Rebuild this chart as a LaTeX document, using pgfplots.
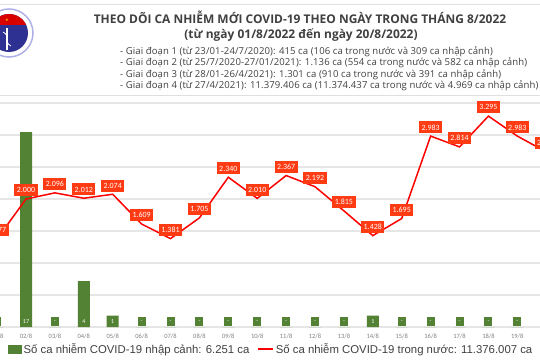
\documentclass[border=0pt]{standalone}
\usepackage{pgfplots}
\pgfplotsset{compat=1.18}
\usepackage{pgfplotstable}
\usepackage{fontspec}
\setmainfont{Liberation Sans}
\newfontfamily\lab{Carlito}
\newfontfamily\hdr{Open Sans}
\newfontfamily\hdrs[LetterSpace=1.0]{Open Sans}
\definecolor{barg}{HTML}{548235}
\definecolor{lbl}{HTML}{FF3B14}
\definecolor{linered}{HTML}{FF0000}
\definecolor{gridc}{HTML}{E6E6E6}
\definecolor{txt}{HTML}{404040}
\definecolor{navy}{HTML}{2E3192}

\pgfplotstableread{
x dom lab
1 1377 1.377
2 2000 2.000
3 2096 2.096
4 2012 2.012
5 2074 2.074
6 1609 1.609
7 1381 1.381
8 1705 1.705
9 2340 2.340
10 2010 2.010
11 2367 2.367
12 2192 2.192
13 1815 1.815
14 1428 1.428
15 1695 1.695
16 2983 2.983
17 2814 2.814
18 3295 3.295
19 2983 2.983
20 2736 2.736
}\domtab

\pgfplotstableread{
x imp base lab
1 0 0 -
2 17 0 17
3 0 0 -
4 4 0 4
5 1 0 1
6 0 0 -
7 0 0 -
8 0 0 -
9 0 0 -
10 0 0 -
11 0 0 -
12 0 0 -
13 0 0 -
14 1 0 1
15 0 0 -
16 0 0 -
17 0 0 -
18 0 0 -
19 0 0 -
20 0 0 -
}\imptab

\pgfplotsset{
  base/.style={
    at={(0,33bp)}, anchor=south west, scale only axis,
    width=540bp, height=224bp, xmin=1.1, xmax=19.785,
    axis line style={draw=none}, clip=false,
  }
}

\begin{document}
\begin{tikzpicture}[x=1bp,y=1bp]
\path[use as bounding box] (0,0) rectangle (540,360);
\clip (0,0) rectangle (540,360);
\fill[white] (0,0) rectangle (540,360);

% header box
\draw[gray!25, line width=1bp, fill=white] (-5,265) rectangle (545,355);
% logo
\begin{scope}
\fill[white] (9,327) circle (25);
\draw[gray!45!blue!40, line width=1.5bp] (9,327) circle (24);
\fill[navy] (9,327) circle (19);
\begin{scope}
\clip (9,327) circle (19);
\fill[red!85!black] (-15,335) rectangle (30,350);
\end{scope}
\node[yellow, font=\fontsize{6}{6}\selectfont] at (7,340) {$\star$};
\draw[white, line width=1.2bp] (7,332) -- (7,310);
\draw[white, line width=0.8bp] (3,328) .. controls (11,324) and (3,318) .. (11,314);
\end{scope}

\node[font=\hdr\bfseries\fontsize{12}{14}\selectfont, text=txt] at (300,343) {THEO DÕI CA NHIỄM MỚI COVID-19 THEO NGÀY TRONG THÁNG 8/2022};
\node[font=\hdr\bfseries\fontsize{12}{14}\selectfont, text=txt] at (301,325) {(từ ngày 01/8/2022 đến ngày 20/8/2022)};
\node[font=\hdrs\fontsize{9.6}{12}\selectfont, text=txt, anchor=west, inner sep=0] at (120,308.5) {- Giai đoạn 1 (từ 23/01-24/7/2020): 415 ca (106 ca trong nước và 309 ca nhập cảnh)};
\node[font=\hdrs\fontsize{9.6}{12}\selectfont, text=txt, anchor=west, inner sep=0] at (120,297) {- Giai đoạn 2 (từ 25/7/2020-27/01/2021): 1.136 ca (554 ca trong nước và 582 ca nhập cảnh)};
\node[font=\hdrs\fontsize{9.6}{12}\selectfont, text=txt, anchor=west, inner sep=0] at (120,285.5) {- Giai đoạn 3 (từ 28/01-26/4/2021): 1.301 ca (910 ca trong nước và 391 ca nhập cảnh)};
\node[font=\hdrs\fontsize{9.6}{12}\selectfont, text=txt, anchor=west, inner sep=0] at (120,274) {- Giai đoạn 4 (từ 27/4/2021): 11.379.406 ca (11.374.437 ca trong nước và 4.969 ca nhập cảnh)};

% grid + x labels
\begin{axis}[base, ymin=0, ymax=3500, ytick={0,500,...,3500}, yticklabels={},
  ymajorgrids, grid style={gridc, line width=1.3bp},
  xtick={2,...,19}, xticklabels={02/8,03/8,04/8,05/8,06/8,07/8,08/8,09/8,10/8,11/8,12/8,13/8,14/8,15/8,16/8,17/8,18/8,19/8},
  major tick length=0pt,
  xticklabel style={font=\lab\fontsize{6.5}{7}\selectfont, text=gray, yshift=-3bp}]
\addplot[draw=none] coordinates {(2,0)};
\node[font=\lab\fontsize{6.5}{7}\selectfont, text=gray, anchor=north, yshift=-3bp, inner sep=3.33bp] at (axis cs:1,0) {01/8};
\end{axis}

% bars
\begin{axis}[base, ymin=0, ymax=19.53, ytick=\empty, xtick=\empty]
\addplot[ybar, bar width=12bp, fill=barg, draw=none] table[x=x, y=imp] {\imptab};
\addplot[draw=none, nodes near coords, point meta=explicit symbolic,
  nodes near coords style={fill=barg, text=white, font=\lab\fontsize{6}{7}\selectfont,
    inner sep=1bp, minimum width=8bp, minimum height=9bp, anchor=south, yshift=0.5bp}]
  table[x=x, y=base, meta=lab] {\imptab};
\end{axis}

% line
\begin{axis}[base, ymin=0, ymax=3500, ytick=\empty, xtick=\empty,
  legend columns=2,
  legend style={at={(axis description cs:0.0148,-0.098)}, anchor=west, draw=none, fill=none,
    inner sep=0pt, font=\fontsize{11.4}{13}\selectfont, text=txt,
    /tikz/every even column/.append style={column sep=6bp}},
  legend cell align=left]
\addlegendimage{legend image code/.code={\fill[barg] (0bp,-4bp) rectangle (13bp,4bp);}}
\addlegendentry{Số ca nhiễm COVID-19 nhập cảnh: 6.251 ca}
\addplot[linered, line width=1.5bp, mark=none, nodes near coords, point meta=explicit symbolic,
  nodes near coords style={fill=lbl, text=white, font=\lab\fontsize{8}{9}\selectfont,
    inner xsep=2.5bp, inner ysep=1bp, minimum height=12bp, anchor=south, yshift=2bp},
  legend image code/.code={\draw[linered, line width=1.5bp] (0bp,0bp) -- (15bp,0bp);}]
  table[x=x, y=dom, meta=lab] {\domtab};
\addlegendentry{Số ca nhiễm COVID-19 trong nước: 11.376.007 ca}
\end{axis}
\end{tikzpicture}
\end{document}
